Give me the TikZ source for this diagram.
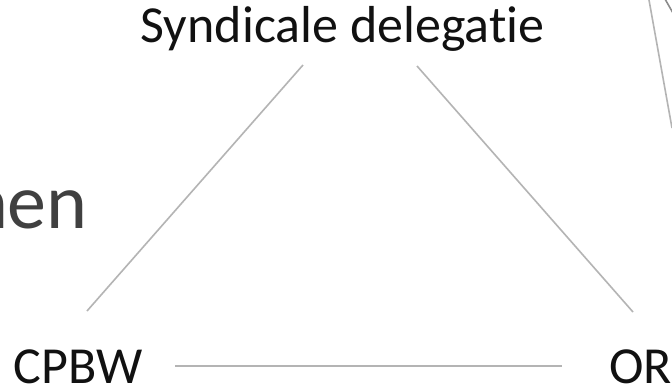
\documentclass[tikz,border=0pt]{standalone}
\usepackage{fontspec}
\setmainfont[Ligatures=NoCommon]{Carlito}
\definecolor{linegray}{HTML}{B4B4B4}
\definecolor{darkline}{HTML}{8C8C8C}
\definecolor{bodygray}{HTML}{404040}
\definecolor{textblack}{HTML}{111111}
\begin{document}
\begin{tikzpicture}[x=1pt,y=-1pt,
  conn/.style={draw=linegray, line width=1.6pt},
  lbl/.style={anchor=base, inner sep=0pt, text=textblack, font=\fontsize{52}{60}\selectfont}]
\useasboundingbox (0,0) rectangle (672,389);
\clip (0,0) rectangle (672,389);
\fill[white] (0,0) rectangle (672,389);
% labels
\node[lbl] (sd) at (342.5,42) {Syndicale delegatie};
\node[lbl] (cpbw) at (78,383) {CPBW};
\node[lbl] (or) at (640.5,383) {OR};
\node[anchor=base east, inner sep=0pt, text=bodygray, font=\fontsize{78}{90}\selectfont] (nen) at (88,228) {nen};
% connector end points
\coordinate (sdL) at (303,65);
\coordinate (cpbwT) at (87,311);
\coordinate (sdR) at (417,66);
\coordinate (orT) at (633,312);
\coordinate (cpbwR) at (175,366);
\coordinate (orL) at (562,366);
\coordinate (edgeA) at (649,0);
\coordinate (edgeB) at (672,128);
\coordinate (edgeC) at (665,-1);
\coordinate (edgeD) at (673,13);
% connectors
\draw[conn] (sdL) -- (cpbwT);
\draw[conn] (sdR) -- (orT);
\draw[conn] (cpbwR) -- (orL);
\draw[conn] (edgeA) -- (edgeB);
\draw[draw=darkline, line width=1.6pt] (edgeC) -- (edgeD);
\end{tikzpicture}
\end{document}
